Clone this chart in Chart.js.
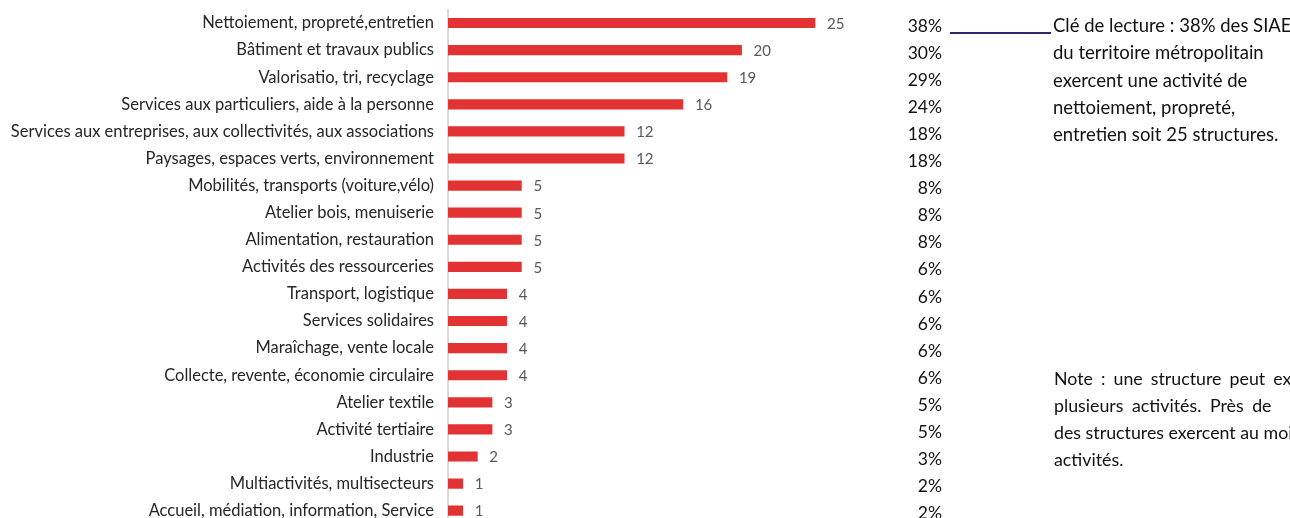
<!DOCTYPE html>
<html><head><meta charset="utf-8">
<script src="https://cdn.jsdelivr.net/npm/chart.js@4.4.1/dist/chart.umd.min.js"></script>
<style>
html,body{margin:0;padding:0;background:#fff;overflow:hidden;width:1290px;height:518px;}
#wrap{position:relative;width:1290px;height:530px;}
</style></head>
<body>
<div id="wrap"><canvas id="c" width="1290" height="530"></canvas></div>
<script>
const categories = [
  "Nettoiement, propreté,entretien",
  "Bâtiment et travaux publics",
  "Valorisatio, tri, recyclage",
  "Services aux particuliers, aide à la personne",
  "Services aux entreprises, aux collectivités, aux associations",
  "Paysages, espaces verts, environnement",
  "Mobilités, transports (voiture,vélo)",
  "Atelier bois, menuiserie",
  "Alimentation, restauration",
  "Activités des ressourceries",
  "Transport, logistique",
  "Services solidaires",
  "Maraîchage, vente locale",
  "Collecte, revente, économie circulaire",
  "Atelier textile",
  "Activité tertiaire",
  "Industrie",
  "Multiactivités, multisecteurs",
  "Accueil, médiation, information, Service"
];
const counts = [25, 20, 19, 16, 12, 12, 5, 5, 5, 5, 4, 4, 4, 4, 3, 3, 2, 1, 1];
const shares = [38, 30, 29, 24, 18, 18, 8, 8, 8, 6, 6, 6, 6, 6, 5, 5, 3, 2, 2];
const noteKey = ["Clé de lecture : 38% des SIAE", "du territoire métropolitain", "exercent une activité de", "nettoiement, propreté,", "entretien soit 25 structures."];
const noteLines = ["Note : une structure peut exercer", "plusieurs activités. Près de", "des structures exercent au moins", "activités."];

const FONT = "Lato, 'Noto Sans', sans-serif";

function drawWords(ctx, text, x, y, extra) {
  const words = text.split(" ");
  const sp = ctx.measureText(" ").width + extra;
  let cx = x;
  for (const w of words) {
    ctx.fillText(w, cx, y);
    cx += ctx.measureText(w).width + sp;
  }
}

const extras = {
  id: "extras",
  afterDatasetsDraw(chart) {
    const ctx = chart.ctx;
    const meta = chart.getDatasetMeta(0);
    const yScale = chart.scales.y;
    ctx.save();
    // value labels
    ctx.font = "15px " + FONT;
    ctx.fillStyle = "#595959";
    ctx.textAlign = "left";
    ctx.textBaseline = "middle";
    meta.data.forEach((bar, i) => {
      ctx.fillText(String(counts[i]), bar.x + 12, bar.y + 1);
    });
    // percent column
    ctx.font = "17.5px " + FONT;
    ctx.fillStyle = "#111";
    ctx.textAlign = "right";
    shares.forEach((s, i) => {
      ctx.fillText(s + "%", 942, yScale.getPixelForValue(i) + 3);
    });
    // leader line
    ctx.strokeStyle = "#2E2A6B";
    ctx.lineWidth = 2;
    ctx.beginPath();
    ctx.moveTo(950, 33);
    ctx.lineTo(1051, 33);
    ctx.stroke();
    // key text
    ctx.font = "18.5px " + FONT;
    ctx.fillStyle = "#111";
    ctx.textAlign = "left";
    noteKey.forEach((t, i) => ctx.fillText(t, 1053, 26 + i * 27.3));
    ctx.font = "17.8px " + FONT;
    const gaps = [3.5, 4, 0, 0];
    noteLines.forEach((t, i) => drawWords(ctx, t, 1054, 379 + i * 27.1, gaps[i]));
    ctx.restore();
  }
};

new Chart(document.getElementById("c"), {
  type: "bar",
  data: {
    labels: categories,
    datasets: [{
      data: counts,
      backgroundColor: "#E33233",
      borderWidth: 0,
      barThickness: 9.5
    }]
  },
  options: {
    indexAxis: "y",
    responsive: false,
    animation: false,
    devicePixelRatio: 1,
    layout: { padding: { left: 0, top: 9.5, bottom: 5.8, right: 401.6 } },
    plugins: { legend: { display: false }, tooltip: { enabled: false } },
    scales: {
      x: { display: false, min: 0, max: 30 },
      y: {
        afterFit(s) { s.width = 448; s.paddingTop = 0; s.paddingBottom = 0; },
        grid: { display: false, drawTicks: false },
        border: { display: true, color: "#D9D9D9", width: 2 },
        ticks: { color: "#262626", font: { family: FONT, size: 16.5 }, padding: 14, autoSkip: false }
      }
    }
  },
  plugins: [extras]
});
</script>
</body></html>
